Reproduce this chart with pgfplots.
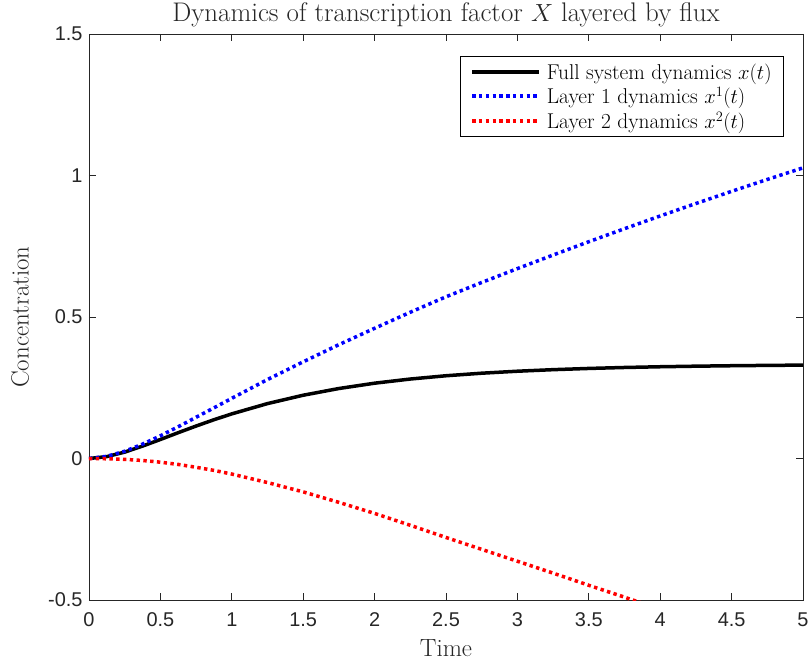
\documentclass[border=0pt]{standalone}
\usepackage{pgfplots}
\usepackage{pgfplotstable}
\pgfplotsset{compat=1.18}
\usepackage{fontspec}
\newfontfamily\arialfont{Liberation Sans}
\definecolor{axgray}{gray}{0.15}

% t, full system x(t), layer 1 x^1(t), layer 2 x^2(t)
\pgfplotstableread{
t      x       xa      xb
0      0       0       0
0.125  0.0067  0.0077  -0.001
0.25   0.0226  0.0256  -0.003
0.375  0.0438  0.0508  -0.007
0.5    0.0672  0.0802  -0.013
0.625  0.0913  0.1123  -0.021
0.75   0.1147  0.1457  -0.031
0.875  0.1370  0.1790  -0.042
1.0    0.1577  0.2127  -0.055
1.25   0.1940  0.2790  -0.085
1.5    0.2236  0.3416  -0.118
1.75   0.2473  0.4023  -0.155
2.0    0.2661  0.4601  -0.194
2.25   0.2808  0.5168  -0.236
2.5    0.2924  0.5714  -0.279
2.75   0.3014  0.6220  -0.321
3.0    0.3084  0.6710  -0.363
3.25   0.3139  0.7190  -0.405
3.5    0.3182  0.7660  -0.448
3.75   0.3216  0.8120  -0.490
4.0    0.3242  0.8570  -0.533
4.25   0.3262  0.9010  -0.575
4.5    0.3278  0.9440  -0.616
4.75   0.3290  0.9860  -0.657
5.0    0.3300  1.0270  -0.697
}\dyn

\begin{document}
\begin{tikzpicture}
\begin{axis}[
  at={(0,0)}, anchor=south west,
  scale only axis, width=714bp, height=566bp,
  xmin=0, xmax=5, ymin=-0.5, ymax=1.5,
  xtick={0,0.5,1,1.5,2,2.5,3,3.5,4,4.5,5},
  xticklabels={0,0.5,1,1.5,2,2.5,3,3.5,4,4.5,5},
  ytick={-0.5,0,0.5,1,1.5},
  yticklabels={-0.5,0,0.5,1,1.5},
  tick align=inside, major tick length=7bp,
  axis line style={draw=axgray, line width=0.8bp},
  every tick/.style={draw=axgray, line width=0.8bp},
  ticklabel style={font=\arialfont\fontsize{20}{23}\selectfont, text=axgray},
  xticklabel style={yshift=-9bp},
  yticklabel style={xshift=-3bp},
  title={Dynamics of transcription factor $X$ layered by flux},
  title style={font=\fontsize{27}{31}\selectfont, text=axgray,
    at={(axis description cs:0.5,1)}, anchor=base, yshift=6.5bp},
  xlabel={Time}, ylabel={Concentration},
  label style={font=\fontsize{25}{29}\selectfont, text=axgray},
  xlabel style={at={(axis description cs:0.5,-0.0848)}, anchor=center},
  ylabel style={at={(axis description cs:-0.0965,0.5)}, anchor=center},
  legend cell align=left,
  legend style={at={(1,1)}, anchor=north east, xshift=-19bp, yshift=-22.5bp,
    draw=black, line width=0.8bp, font=\fontsize{21.5}{25}\selectfont,
    inner xsep=10bp, inner ysep=5bp, row sep=3bp, column sep=4bp,
    nodes={inner xsep=2bp, inner ysep=1.75bp}},
  legend image code/.code={\draw[#1] (0bp,0bp) -- (67bp,0bp);},
]
\addplot[black, line width=3.5bp] table[x=t, y=x] {\dyn};
\addlegendentry{Full system dynamics $x(t)$}
\addplot[blue, line width=3.5bp, line cap=butt, dash pattern=on 3.4bp off 3.4bp] table[x=t, y=xa] {\dyn};
\addlegendentry{Layer 1 dynamics $x^1(t)$}
\addplot[red, line width=3.5bp, line cap=butt, dash pattern=on 3.4bp off 3.4bp] table[x=t, y=xb] {\dyn};
\addlegendentry{Layer 2 dynamics $x^2(t)$}
\end{axis}
\pgfresetboundingbox
\path[use as bounding box] (-89bp,-66bp) rectangle (722bp,600bp);
\end{tikzpicture}
\end{document}
